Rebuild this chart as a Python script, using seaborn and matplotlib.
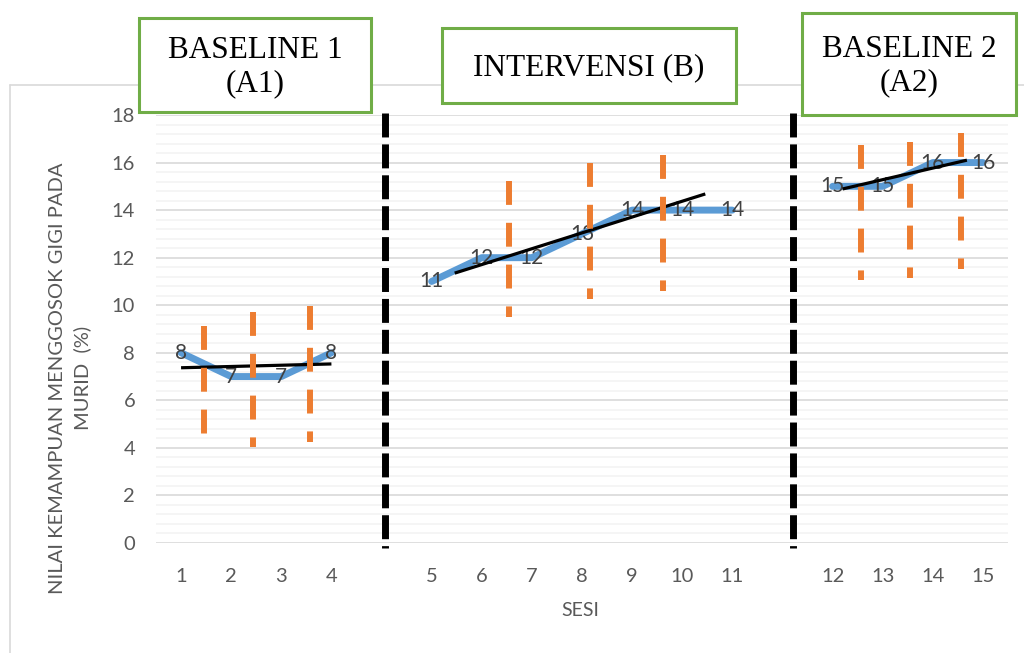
import numpy as np
import pandas as pd
import matplotlib
matplotlib.use("Agg")
import matplotlib.pyplot as plt
import seaborn as sns
from matplotlib.patches import Rectangle
from matplotlib.lines import Line2D
from matplotlib.ticker import MultipleLocator, FixedLocator

# ---------------- data ----------------
sessions = ["1", "2", "3", "4", "5", "6", "7", "8", "9", "10", "11", "12", "13", "14", "15"]
phases = ["A1"] * 4 + ["B"] * 7 + ["A2"] * 4
scores = [8, 7, 7, 8, 11, 12, 12, 13, 14, 14, 14, 15, 15, 16, 16]
# category slots (one empty slot between phases)
slots = [0, 1, 2, 3, 5, 6, 7, 8, 9, 10, 11, 13, 14, 15, 16]

phase_titles = ["BASELINE 1\n(A1)", "INTERVENSI (B)", "BASELINE 2\n(A2)"]
phase_boundaries = [4.06, 12.22]

# trend lines (start slot, end slot, start value, end value)
trend_x0 = [0.0, 5.46, 13.2]
trend_x1 = [3.0, 10.46, 15.68]
trend_y0 = [7.37, 11.35, 14.89]
trend_y1 = [7.53, 14.68, 16.10]

# stability envelope (orange dashed) lines
env_x = [0.46, 1.44, 2.58, 6.54, 8.16, 9.62, 13.56, 14.54, 15.56]
env_top = [9.13, 9.71, 9.97, 15.22, 15.98, 16.30, 16.74, 16.86, 17.24]
env_bot = [4.58, 4.04, 4.25, 9.50, 10.26, 10.60, 11.06, 11.14, 11.52]

y_label = "NILAI KEMAMPUAN MENGGOSOK GIGI PADA\nMURID  (%)"
x_label = "SESI"

# ---------------- style ----------------
sns.set_theme(style="white")
plt.rcParams["font.family"] = ["Lato", "DejaVu Sans"]

W, H = 1024, 653
fig = plt.figure(figsize=(W / 100, H / 100), dpi=100)
ax = fig.add_axes([156 / W, 1 - 543 / H, (1008 - 156) / W, (543 - 115) / H])

BLUE = "#5B9BD5"
ORANGE = "#ED7D31"
GREEN = "#70AD47"
TXT = "#595959"

df = pd.DataFrame({"slot": slots, "score": scores, "phase": phases, "sesi": sessions})

sns.lineplot(data=df, x="slot", y="score", hue="phase", palette=[BLUE] * 3,
             legend=False, ax=ax, linewidth=5, zorder=3,
             solid_capstyle="round", solid_joinstyle="round")

# data labels
for s, v in zip(slots, scores):
    ax.text(s, v, str(v), ha="center", va="center", fontsize=15,
            color="#404040", zorder=4)

# trend lines
for x0, x1, y0, y1 in zip(trend_x0, trend_x1, trend_y0, trend_y1):
    ax.plot([x0, x1], [y0, y1], color="black", linewidth=2.3, zorder=5,
            solid_capstyle="butt")

# envelope lines (dashed orange, drawn top to bottom)
for x, t, b in zip(env_x, env_top, env_bot):
    ln, = ax.plot([x, x], [t, b], color=ORANGE, linewidth=4.3, zorder=6,
                  dash_capstyle="butt")
    ln.set_dashes((4.0, 3.0))

# phase boundaries
for x in phase_boundaries:
    ln, = ax.plot([x, x], [18.08, -0.21], color="black", linewidth=5.0,
                  zorder=7, clip_on=False, dash_capstyle="butt")
    ln.set_dashes((3.45, 1.0))

# axes formatting
ax.set_xlim(-0.5, 16.5)
ax.set_ylim(0, 18)
ax.xaxis.set_major_locator(FixedLocator(slots))
ax.set_xticklabels(sessions)
ax.yaxis.set_major_locator(MultipleLocator(2))
ax.yaxis.set_minor_locator(MultipleLocator(0.4))
ax.grid(False)
ax.set_axisbelow(True)
for y in np.arange(0, 18.01, 0.4):
    if abs(y / 2 - round(y / 2)) > 1e-6:
        ax.axhline(y, color="#F2F2F2", linewidth=1.1, zorder=0)
for y in range(0, 19, 2):
    ax.axhline(y, color="#D9D9D9", linewidth=1.2, zorder=0.5)
for sp in ax.spines.values():
    sp.set_visible(False)
ax.tick_params(axis="both", which="both", length=0, colors=TXT, labelsize=14.5)
ax.tick_params(axis="y", pad=15)
ax.tick_params(axis="x", pad=18)
ax.set_xlabel("")
ax.set_ylabel("")

fig.text(70 / W, 1 - 378 / H, y_label, rotation=90, ha="center", va="center",
         fontsize=14.5, color=TXT, linespacing=1.45, multialignment="center")
fig.text(580 / W, 1 - 610 / H, x_label, ha="center", va="center",
         fontsize=14, color=TXT)

# chart-area frame (partially visible)
fig.add_artist(Line2D([10 / W, 10 / W], [0, 1 - 85 / H], color="#D9D9D9",
                      linewidth=1.2, transform=fig.transFigure))
fig.add_artist(Line2D([10 / W, 1], [1 - 85 / H, 1 - 85 / H], color="#D9D9D9",
                      linewidth=1.2, transform=fig.transFigure))

# phase title boxes
boxes = [(139, 18, 371, 112), (442, 28, 736, 103), (802, 13, 1016, 115)]
for (x0, y0, x1, y1), title in zip(boxes, phase_titles):
    rect = Rectangle((x0 / W, 1 - y1 / H), (x1 - x0) / W, (y1 - y0) / H,
                     transform=fig.transFigure, facecolor="white",
                     edgecolor=GREEN, linewidth=2.2, zorder=10)
    fig.add_artist(rect)
    t = fig.text((x0 + x1) / 2 / W, 1 - ((y0 + y1) / 2 + 2) / H, title,
                 ha="center", va="center", fontsize=22.5, color="black",
                 family=["Liberation Serif"], linespacing=1.2, zorder=11)

fig.savefig("out.png", dpi=100)
